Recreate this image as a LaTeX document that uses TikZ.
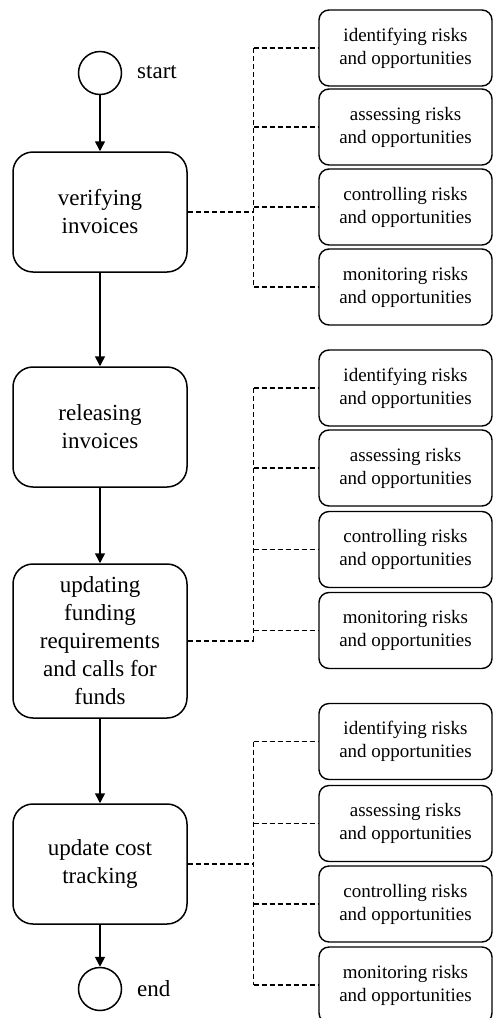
\documentclass[tikz,border=0pt]{standalone}
\usepackage{fontspec}
\setmainfont{Liberation Serif}
\usetikzlibrary{arrows.meta}
\begin{document}
\begin{tikzpicture}[x=1pt,y=-1pt,
  mainbox/.style={draw,line width=1.5pt,rounded corners=20pt,minimum width=174pt,align=center,inner sep=0pt,font=\fontsize{23}{28}\selectfont},
  riskbox/.style={draw,line width=1.4pt,rounded corners=10pt,minimum width=173pt,minimum height=76pt,align=center,inner sep=0pt,font=\fontsize{19}{23}\selectfont},
  event/.style={draw,circle,line width=1.5pt,minimum size=43pt,inner sep=0pt},
  evlabel/.style={anchor=west,inner sep=0pt,font=\fontsize{23}{28}\selectfont},
  flow/.style={line width=1.5pt,-{Triangle[width=10pt,length=10pt]}},
  maindash/.style={line width=2pt,dash pattern=on 5pt off 3pt},
  branch/.style={line width=1.4pt,dash pattern=on 5pt off 3pt}]
\useasboundingbox (0,0) rectangle (493,1018);

% main flow
\node[event] (start) at (100,73) {};
\node[evlabel] (startl) at (137,72) {start};
\node[mainbox,minimum height=120pt] (verif) at (100,212) {verifying\\invoices};
\node[mainbox,minimum height=120pt] (release) at (100,427) {releasing\\invoices};
\node[mainbox,minimum height=154pt] (updating) at (100,641) {updating\\funding\\requirements\\and calls for\\funds};
\node[mainbox,minimum height=120pt] (update) at (100,864) {update cost\\tracking};
\node[event] (end) at (100,989) {};
\node[evlabel] (endl) at (137,989) {end};

\draw[flow] (start) -- (verif);
\draw[flow] (verif) -- (release);
\draw[flow] (release) -- (updating);
\draw[flow] (updating) -- (update);
\draw[flow] (update) -- (end);

% risk boxes
\foreach \g/\ya/\yb/\yc/\yd in {1/48/127/207/287, 2/388/468/549.5/630.5, 3/741.5/823.5/904/985}{
  \node[riskbox] (a\g) at (405.5,\ya) {identifying risks\\and opportunities};
  \node[riskbox] (b\g) at (405.5,\yb) {assessing risks\\and opportunities};
  \node[riskbox] (c\g) at (405.5,\yc) {controlling risks\\and opportunities};
  \node[riskbox] (d\g) at (405.5,\yd) {monitoring risks\\and opportunities};
}

% junctions
\coordinate (v1) at (253.5,212);
\coordinate (v2) at (253.5,641);
\coordinate (v3) at (253.5,864);

\draw[maindash] (verif.east) -- (v1);
\draw[maindash] (updating.east) -- (v2);
\draw[maindash] (update.east) -- (v3);

\draw[branch] (v1 |- a1.west) -- (v1 |- d1.west);
\draw[branch] (v2 |- a2.west) -- (v2);
\draw[branch] (v3 |- a3.west) -- (v3 |- d3.west);

\foreach \g in {1,2,3}{
  \foreach \b in {a,b,c,d}{
    \draw[branch] (v\g |- \b\g.west) -- (\b\g.west);
  }
}
\end{tikzpicture}
\end{document}
